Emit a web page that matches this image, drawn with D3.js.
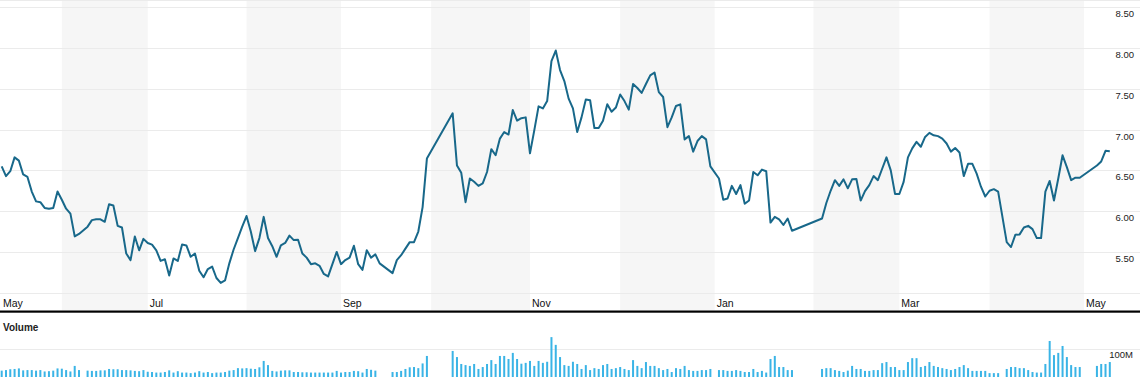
<!DOCTYPE html>
<html><head><meta charset="utf-8">
<script src="https://cdn.jsdelivr.net/npm/d3@7/dist/d3.min.js"></script>
<style>body{margin:0;background:#fff}svg{display:block}</style>
</head><body>
<svg id="c" width="1140" height="392"></svg>
<script>
// first weekday of the series; one entry per weekday, null = no trading
const startDate = "2013-05-13";
const prices = [
 null,6.55,6.43,6.49,6.66,6.62,6.45,6.42,6.24,6.12,
 6.11,6.04,6.03,6.04,6.24,6.14,6.03,5.97,5.69,5.72,
 null,5.81,5.89,5.90,5.90,5.87,6.085,6.07,5.82,5.80,
 5.48,5.40,5.69,5.52,5.66,5.61,5.59,5.52,5.39,5.41,
 5.21,5.42,5.39,5.59,5.58,5.44,5.48,5.27,5.19,5.29,
 5.32,5.18,5.12,5.15,5.36,5.53,5.67,5.81,5.94,5.75,
 5.51,5.67,5.93,5.67,5.57,5.44,5.58,5.61,5.70,5.645,
 5.65,5.48,5.43,5.35,5.36,5.33,5.23,5.20,5.35,5.50,
 5.35,5.40,5.43,5.575,5.35,5.28,5.52,5.43,5.47,5.36,
 5.32,5.28,5.24,5.40,5.46,5.54,5.62,5.62,5.75,6.05,
 6.645,null,null,null,null,null,7.20,6.56,6.47,6.11,
 6.40,6.36,6.31,6.34,6.48,6.76,6.685,6.89,6.97,6.94,
 7.24,7.11,7.14,7.15,6.71,6.99,7.285,7.26,7.35,7.84,
 7.97,7.73,7.595,7.38,7.26,6.97,7.15,7.37,7.36,7.02,
 7.02,7.11,7.31,7.22,7.27,7.43,7.35,7.245,7.56,7.51,
 7.45,7.56,7.665,7.70,7.46,7.40,7.03,7.15,7.29,7.31,
 6.88,6.92,6.73,6.86,6.92,6.88,6.55,null,6.40,6.14,
 6.155,6.31,6.21,6.32,6.09,6.13,6.48,6.44,6.51,6.49,
 5.86,5.93,5.90,5.83,5.91,5.76,null,null,null,null,
 null,null,5.91,6.10,6.25,6.38,6.31,6.39,6.28,6.39,
 6.395,6.13,6.245,6.32,6.43,6.38,6.52,6.66,6.50,6.21,
 6.21,6.36,6.66,6.77,6.85,6.79,6.91,6.96,6.93,6.92,
 6.89,6.83,6.73,6.775,6.72,6.43,6.58,6.58,6.46,6.30,
 6.18,6.25,6.27,6.24,null,5.62,5.56,5.71,5.715,5.80,
 5.82,5.78,5.67,5.67,6.24,6.37,6.13,6.40,6.685,6.54,
 6.38,6.41,6.41,null,null,null,6.56,6.61,6.74,6.735
];
// volume in millions of shares, same weekday grid
const volumes = [
 null,23,25,28,29,31,24,25,25,23,
 25,20,21,23,31,30,25,20,40,25,
 null,23,22,22,24,24,29,28,28,25,
 25,24,22,21,25,19,18,16,16,18,
 24,16,21,16,16,14,16,21,16,18,
 14,16,16,18,23,25,32,31,32,30,
 29,35,58,43,22,20,23,24,24,18,
 18,17,17,16,16,16,16,16,16,22,
 16,18,18,22,21,16,29,26,23,null,
 null,null,18,18,22,29,35,36,32,49,
 76,null,null,null,null,null,94,72,47,43,
 40,47,29,36,47,61,47,76,76,65,
 87,65,48,51,58,40,58,51,55,144,
 116,72,43,40,55,47,29,43,25,32,
 29,43,47,29,32,36,29,25,61,40,
 32,54,40,40,32,25,29,18,32,29,
 40,25,22,22,25,25,29,null,25,25,
 22,22,25,22,18,18,29,18,22,16,
 65,76,36,36,25,25,null,null,null,null,
 null,null,29,32,32,25,22,18,23,40,
 29,29,22,22,25,25,50,54,36,36,
 25,25,54,68,68,36,40,54,40,36,
 32,29,25,29,36,43,32,22,22,22,
 22,14,14,14,null,29,36,36,32,32,
 25,18,16,16,47,130,79,87,112,72,
 43,36,36,null,null,null,40,47,47,54
];
const priceTicks = [5.5, 6.0, 6.5, 7.0, 7.5, 8.0, 8.5];
const priceGrid = [5.0, 5.5, 6.0, 6.5, 7.0, 7.5, 8.0, 8.5];
const volumeTicks = [100];
const volumeTickLabels = ["100M"];
const monthNames = ["Jan","Feb","Mar","Apr","May","Jun","Jul","Aug","Sep","Oct","Nov","Dec"];

// ---- build weekday dates
const parse = d3.timeParse("%Y-%m-%d");
const dates = [];
{ let d = parse(startDate);
  while (dates.length < prices.length) {
    const wd = d.getDay();
    if (wd !== 0 && wd !== 6) dates.push(new Date(d));
    d = d3.timeDay.offset(d, 1);
  } }

const W = 1140;
const svg = d3.select("#c");
const x = d3.scaleLinear().domain([0, 260]).range([-2.6, -2.6 + 260 * 4.295]);
const y = d3.scaleLinear().domain([5, 8.5]).range([292.7, 7.3]);
const yv = d3.scaleLinear().domain([0, 100]).range([377, 349.3]);

// month boundaries
const bounds = [];
dates.forEach((d, i) => {
  if (i === 0 || d.getMonth() !== dates[i - 1].getMonth()) bounds.push({i, m: d.getMonth()});
});
// shaded bands for Jun, Aug, Oct, Dec, Feb, Apr
const bandG = svg.append("g");
bounds.forEach((b, k) => {
  if (b.m % 2 === 1) {
    const x0 = Math.max(0, x(b.i));
    const x1 = k + 1 < bounds.length ? x(bounds[k + 1].i) : W;
    bandG.append("rect").attr("x", x0).attr("y", 0).attr("width", x1 - x0).attr("height", 310.5)
      .attr("fill", "#f6f6f6");
  }
});

// price grid
svg.append("g").selectAll("line").data(priceGrid).join("line")
  .attr("x1", 0).attr("x2", W)
  .attr("y1", d => Math.round(y(d)) + 0.5).attr("y2", d => Math.round(y(d)) + 0.5)
  .attr("stroke", "#ebebeb").attr("stroke-width", 1);
svg.append("line").attr("x1", 0).attr("x2", W).attr("y1", 0.5).attr("y2", 0.5)
  .attr("stroke", "#ebebeb");

// price labels
svg.append("g").selectAll("text").data(priceTicks).join("text")
  .attr("x", 1134).attr("y", d => y(d) + 10)
  .attr("text-anchor", "end")
  .attr("font-family", "Liberation Sans, Arial, sans-serif").attr("font-size", 9.5)
  .attr("fill", "#222").text(d => d.toFixed(2));

// month labels
svg.append("g").selectAll("text").data(bounds.filter(b => b.m % 2 === 0)).join("text")
  .attr("x", b => Math.max(3, x(b.i) + 2)).attr("y", 307)
  .attr("font-family", "Liberation Sans, Arial, sans-serif").attr("font-size", 10.5)
  .attr("fill", "#111").text(b => monthNames[b.m]);

// price line (gaps bridged)
const pts = prices.map((v, i) => ({i, v})).filter(d => d.v !== null);
svg.append("path").datum(pts)
  .attr("d", d3.line().x(d => x(d.i)).y(d => y(d.v)))
  .attr("fill", "none").attr("stroke", "#18688a").attr("stroke-width", 2)
  .attr("stroke-linejoin", "round");

// separator
svg.append("rect").attr("x", 0).attr("y", 310.5).attr("width", W).attr("height", 2.2).attr("fill", "#000");

// Volume title
svg.append("text").attr("x", 3).attr("y", 331)
  .attr("font-family", "Liberation Sans, Arial, sans-serif").attr("font-size", 10)
  .attr("font-weight", "bold").attr("fill", "#222").text("Volume");

// volume grid + label
svg.append("g").selectAll("line").data(volumeTicks).join("line")
  .attr("x1", 0).attr("x2", W)
  .attr("y1", d => Math.round(yv(d)) + 0.5).attr("y2", d => Math.round(yv(d)) + 0.5)
  .attr("stroke", "#ebebeb");
svg.append("g").selectAll("text").data(volumeTicks).join("text")
  .attr("x", 1133).attr("y", d => yv(d) + 9)
  .attr("text-anchor", "end")
  .attr("font-family", "Liberation Sans, Arial, sans-serif").attr("font-size", 9.5)
  .attr("fill", "#222").text((d, k) => volumeTickLabels[k]);

// volume bars
const vols = volumes.map((v, i) => ({i, v})).filter(d => d.v !== null);
svg.append("g").selectAll("rect").data(vols).join("rect")
  .attr("x", d => x(d.i) - 1).attr("width", 2)
  .attr("y", d => yv(d.v)).attr("height", d => yv(0) - yv(d.v))
  .attr("fill", "#3ab4e6");
</script>
</body></html>
